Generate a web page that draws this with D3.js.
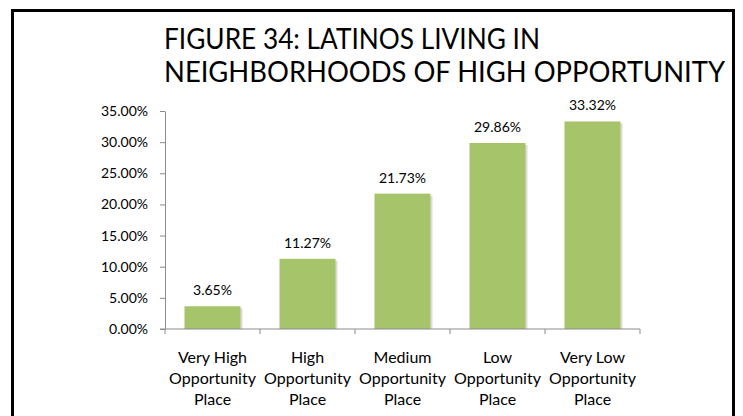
<!DOCTYPE html>
<html>
<head>
<meta charset="utf-8">
<script src="https://cdn.jsdelivr.net/npm/d3@7"></script>
<style>
  body { margin: 0; background: #fff; }
  text { font-family: Lato, "Open Sans", sans-serif; fill: #000; }
</style>
</head>
<body>
<div id="chart"></div>
<script>
const categories = [
    ["Very High", "Opportunity", "Place"],
    ["High", "Opportunity", "Place"],
    ["Medium", "Opportunity", "Place"],
    ["Low", "Opportunity", "Place"],
    ["Very Low", "Opportunity", "Place"]
];
const values = [3.65, 11.27, 21.73, 29.86, 33.32];
const yTicks = [0, 5, 10, 15, 20, 25, 30, 35];
const titleLines = ["FIGURE 34: LATINOS LIVING IN", "NEIGHBORHOODS OF HIGH OPPORTUNITY"];

const width = 743, height = 416;
const plot = { left: 165, right: 640, top: 111, bottom: 329 };

const svg = d3.select("#chart")
    .append("svg")
    .attr("width", width)
    .attr("height", height);

// frame (open at the bottom)
svg.append("path")
    .attr("d", "M12.5,420 V10.5 H733.5 V420")
    .attr("fill", "none")
    .attr("stroke", "#000")
    .attr("stroke-width", 3);

// title - squeezed to the width of the narrow original font
svg.append("text")
    .attr("x", 164)
    .attr("y", 49)
    .attr("font-size", 28)
    .attr("textLength", 376)
    .attr("lengthAdjust", "spacingAndGlyphs")
    .text(titleLines[0]);
svg.append("text")
    .attr("x", 164)
    .attr("y", 82)
    .attr("font-size", 28)
    .attr("textLength", 561)
    .attr("lengthAdjust", "spacingAndGlyphs")
    .text(titleLines[1]);

const x = d3.scaleBand()
    .domain(d3.range(categories.length))
    .range([plot.left, plot.right])
    .paddingInner(0.41)
    .paddingOuter(0.205);

const y = d3.scaleLinear()
    .domain([0, 35])
    .range([plot.bottom, plot.top]);

// y axis
const yAxis = svg.append("g")
    .attr("transform", `translate(${plot.left},0)`)
    .call(d3.axisLeft(y).tickValues(yTicks).tickSize(5).tickSizeOuter(0)
        .tickFormat(d => d.toFixed(2) + "%"));
yAxis.select(".domain").attr("stroke", "#8c8c8c");
yAxis.selectAll(".tick line").attr("stroke", "#8c8c8c");
yAxis.selectAll(".tick text")
    .attr("x", -17)
    .attr("font-size", 14)
    .attr("font-family", "Lato, sans-serif")
    .attr("fill", "#000");

// bar shadows + bars
const bars = svg.append("g");
bars.selectAll("rect.shadow")
    .data(values)
    .join("rect")
    .attr("class", "shadow")
    .attr("x", (d, i) => x(i) + 2)
    .attr("y", d => y(d) + 2)
    .attr("width", x.bandwidth())
    .attr("height", d => y(0) - y(d) - 2)
    .attr("fill", "#dcdcdc");
bars.selectAll("rect.bar")
    .data(values)
    .join("rect")
    .attr("class", "bar")
    .attr("x", (d, i) => x(i))
    .attr("y", d => y(d))
    .attr("width", x.bandwidth())
    .attr("height", d => y(0) - y(d))
    .attr("fill", "#a6c46a");

// x axis
const xAxis = svg.append("g")
    .attr("transform", `translate(0,${plot.bottom})`);
xAxis.append("line")
    .attr("x1", plot.left - 5).attr("x2", plot.right)
    .attr("stroke", "#8c8c8c");
xAxis.selectAll("line.tick")
    .data(d3.range(categories.length + 1))
    .join("line")
    .attr("class", "tick")
    .attr("x1", i => i < categories.length ? x(i) - x.step() * x.paddingOuter() : plot.right)
    .attr("x2", i => i < categories.length ? x(i) - x.step() * x.paddingOuter() : plot.right)
    .attr("y1", 0).attr("y2", 5)
    .attr("stroke", "#8c8c8c");

// category labels
const labels = svg.append("g");
categories.forEach((lines, i) => {
    const t = labels.append("text")
        .attr("text-anchor", "middle")
        .attr("font-size", 16)
        .attr("x", x(i) + x.bandwidth() / 2)
        .attr("y", 363);
    lines.forEach((line, j) => {
        t.append("tspan")
            .attr("x", x(i) + x.bandwidth() / 2)
            .attr("dy", j === 0 ? 0 : 21)
            .text(line);
    });
});

// value labels
svg.append("g").selectAll("text")
    .data(values)
    .join("text")
    .attr("text-anchor", "middle")
    .attr("font-size", 14)
    .attr("x", (d, i) => x(i) + x.bandwidth() / 2)
    .attr("y", d => y(d) - 11)
    .text(d => d.toFixed(2) + "%");
</script>
</body>
</html>
